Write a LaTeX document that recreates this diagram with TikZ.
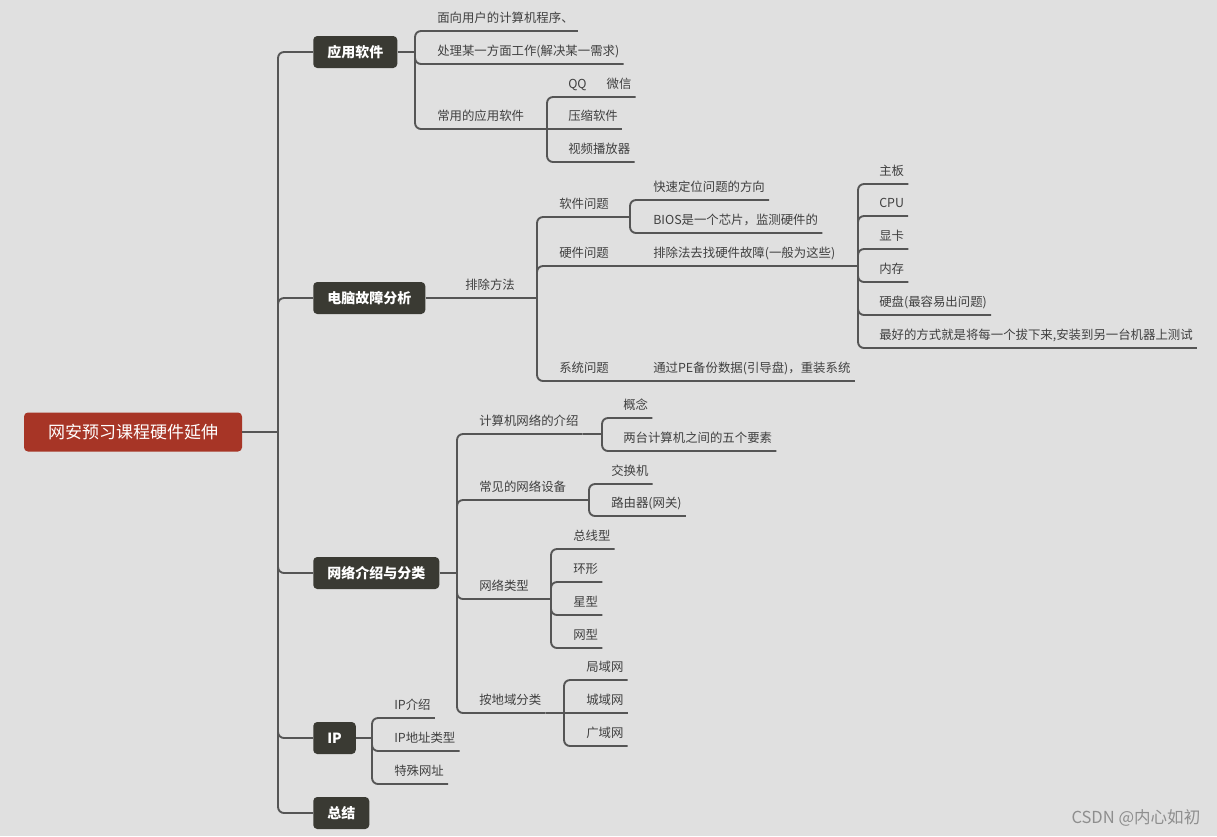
\documentclass[tikz,border=0pt]{standalone}
\usepackage{fontspec}
\setmainfont{Noto Sans CJK SC}
\definecolor{bgcol}{HTML}{E0E0E0}
\definecolor{rootcol}{HTML}{A73526}
\definecolor{topiccol}{HTML}{3A3A33}
\definecolor{linecol}{HTML}{555555}
\definecolor{textcol}{HTML}{404040}
\definecolor{markcol}{HTML}{8E8E8E}
\tikzset{
  rootbox/.style={fill=rootcol, text=white, rounded corners=3pt, minimum width=163.5pt, minimum height=29.25pt, font=\fontsize{12.75pt}{14pt}\selectfont},
  topicbox/.style={fill=topiccol, text=white, rounded corners=3pt, anchor=west, minimum height=24pt, inner xsep=10.5pt, font=\bfseries\fontsize{10.5pt}{12pt}\selectfont},
  leaf/.style={anchor=south west, inner xsep=3pt, inner ysep=6.5pt, text depth=0pt, text=textcol, font=\fontsize{9.3pt}{11pt}\selectfont},
  conn/.style={draw=linecol, line width=1.4pt, rounded corners=4.5pt},
}
\begin{document}
\begin{tikzpicture}[x=0.75pt, y=-0.75pt]
\fill[bgcol] (0,0) rectangle (1217,836);
\node[rootbox] (root) at (133,432) {网安预习课程硬件延伸};
\node[topicbox] (a) at (313,52) {应用软件};
\node[topicbox] (b) at (313,298) {电脑故障分析};
\node[topicbox] (c) at (313,573) {网络介绍与分类};
\node[topicbox] (d) at (313,738) {IP};
\node[topicbox] (e) at (313,813) {总结};
\coordinate (j) at (278,432);
\draw[conn] (root.east) -- (j);
\draw[conn] (j) |- (a.west);
\draw[conn] (j) |- (b.west);
\draw[conn] (j) |- (c.west);
\draw[conn] (j) |- (d.west);
\draw[conn] (j) |- (e.west);
% 应用软件
\node[leaf] (a1) at (433,31) {面向用户的计算机程序、};
\node[leaf] (a2) at (433,64) {处理某一方面工作(解决某一需求)};
\node[leaf] (a3) at (433,129) {常用的应用软件};
\node[leaf] (a31) at (564,97) {QQ\hspace{15pt}微信};
\node[leaf] (a32) at (564,129) {压缩软件};
\node[leaf] (a33) at (564,162) {视频播放器};
\coordinate (ja) at (415,52);
\coordinate (ja3) at (547,129);
\draw[conn] (a.east) -- (ja);
\draw[conn] (ja) |- (a1.south east);
\draw[conn] (ja) |- (a2.south east);
\draw[conn] (ja) |- (a3.south east);
\draw[conn] (a3.south east) -- (ja3);
\draw[conn] (ja3) |- (a31.south east);
\draw[conn] (ja3) -- (a32.south east);
\draw[conn] (ja3) |- (a33.south east);
% 电脑故障分析
\node[leaf] (b1) at (461,298) {排除方法};
\node[leaf] (b11) at (555,217) {软件问题};
\node[leaf] (b12) at (555,266) {硬件问题};
\node[leaf] (b13) at (555,381) {系统问题};
\node[leaf] (b111) at (649,200) {快速定位问题的方向};
\node[leaf] (b112) at (649,233) {BIOS是一个芯片，监测硬件的};
\node[leaf] (b121) at (649,266) {排除法去找硬件故障(一般为这些)};
\node[leaf] (b131) at (649,381) {通过PE备份数据(引导盘)，重装系统};
\node[leaf] (b1211) at (875,184) {主板};
\node[leaf] (b1212) at (875,216) {CPU};
\node[leaf] (b1213) at (875,249) {显卡};
\node[leaf] (b1214) at (875,282) {内存};
\node[leaf] (b1215) at (875,315) {硬盘(最容易出问题)};
\node[leaf] (b1216) at (875,348) {最好的方式就是将每一个拔下来,安装到另一台机器上测试};
\coordinate (jb1) at (537,298);
\coordinate (jb11) at (630,217);
\coordinate (jb121) at (858,266);
\draw[conn] (b.east) -- (b1.south east) -- (jb1);
\draw[conn] (jb1) |- (b11.south east);
\draw[conn] (jb1) |- (b12.south east);
\draw[conn] (jb1) |- (b13.south east);
\draw[conn] (b11.south east) -- (jb11);
\draw[conn] (jb11) |- (b111.south east);
\draw[conn] (jb11) |- (b112.south east);
\draw[conn] (b12.south east) -- (b121.south east) -- (jb121);
\draw[conn] (b13.south east) -- (b131.south east);
\draw[conn] (jb121) |- (b1211.south east);
\draw[conn] (jb121) |- (b1212.south east);
\draw[conn] (jb121) |- (b1213.south east);
\draw[conn] (jb121) |- (b1214.south east);
\draw[conn] (jb121) |- (b1215.south east);
\draw[conn] (jb121) |- (b1216.south east);
% 网络介绍与分类
\node[leaf] (c1) at (475,434) {计算机网络的介绍};
\node[leaf] (c2) at (475,500) {常见的网络设备};
\node[leaf] (c3) at (475,599) {网络类型};
\node[leaf] (c4) at (475,713) {按地域分类};
\node[leaf] (c11) at (619,418) {概念};
\node[leaf] (c12) at (619,451) {两台计算机之间的五个要素};
\node[leaf] (c21) at (607,484) {交换机};
\node[leaf] (c22) at (607,516) {路由器(网关)};
\node[leaf] (c31) at (569,549) {总线型};
\node[leaf] (c32) at (569,582) {环形};
\node[leaf] (c33) at (569,615) {星型};
\node[leaf] (c34) at (569,648) {网型};
\node[leaf] (c41) at (582,680) {局域网};
\node[leaf] (c42) at (582,713) {城域网};
\node[leaf] (c43) at (582,746) {广域网};
\coordinate (jc) at (457,573);
\coordinate (jc1) at (602,434);
\coordinate (jc2) at (589,500);
\coordinate (jc3) at (551,599);
\coordinate (jc4) at (564,713);
\draw[conn] (c.east) -- (jc);
\draw[conn] (jc) |- (c1.south east);
\draw[conn] (jc) |- (c2.south east);
\draw[conn] (jc) |- (c3.south east);
\draw[conn] (jc) |- (c4.south east);
\draw[conn] (c1.south east) -- (jc1);
\draw[conn] (jc1) |- (c11.south east);
\draw[conn] (jc1) |- (c12.south east);
\draw[conn] (c2.south east) -- (jc2);
\draw[conn] (jc2) |- (c21.south east);
\draw[conn] (jc2) |- (c22.south east);
\draw[conn] (c3.south east) -- (jc3);
\draw[conn] (jc3) |- (c31.south east);
\draw[conn] (jc3) |- (c32.south east);
\draw[conn] (jc3) |- (c33.south east);
\draw[conn] (jc3) |- (c34.south east);
\draw[conn] (c4.south east) -- (jc4);
\draw[conn] (jc4) |- (c41.south east);
\draw[conn] (jc4) -- (c42.south east);
\draw[conn] (jc4) |- (c43.south east);
% IP
\node[leaf] (d1) at (390,718) {IP介绍};
\node[leaf] (d2) at (390,751) {IP地址类型};
\node[leaf] (d3) at (390,784) {特殊网址};
\coordinate (jd) at (372,738);
\draw[conn] (d.east) -- (jd);
\draw[conn] (jd) |- (d1.south east);
\draw[conn] (jd) |- (d2.south east);
\draw[conn] (jd) |- (d3.south east);
\node[anchor=east, text=markcol, font=\fontsize{12.4pt}{14pt}\selectfont] (mark) at (1205,818) {CSDN @内心如初};
\end{tikzpicture}
\end{document}
